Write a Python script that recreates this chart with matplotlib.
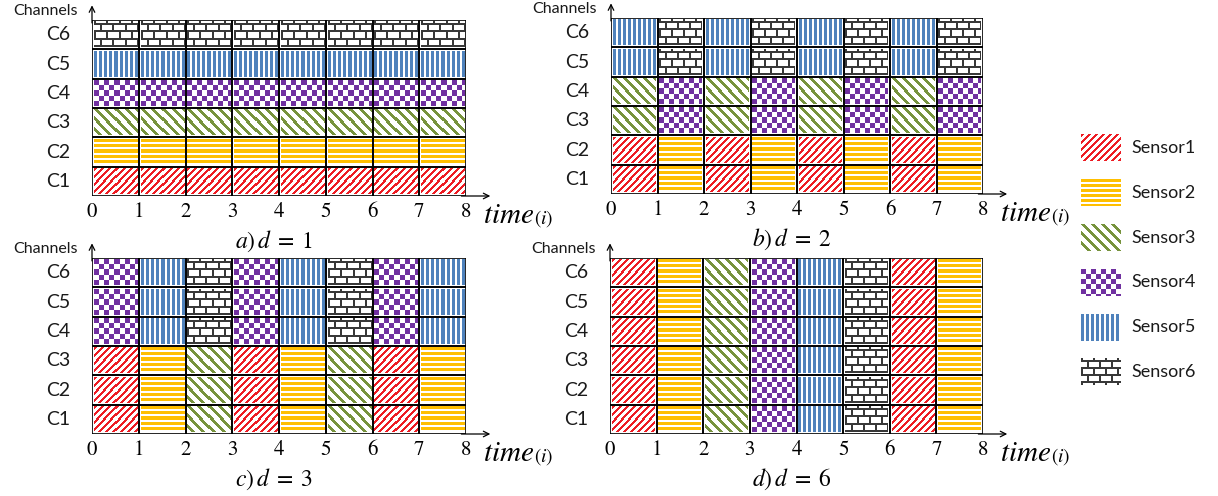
import numpy as np
import matplotlib
matplotlib.use("Agg")
import matplotlib.pyplot as plt
from matplotlib.patches import Rectangle

plt.rcParams['mathtext.fontset'] = 'stix'

W, H = 1218, 496

# ---- data ----
channels = ['C1', 'C2', 'C3', 'C4', 'C5', 'C6']
time_ticks = ['0', '1', '2', '3', '4', '5', '6', '7', '8']
sensors = ['Sensor1', 'Sensor2', 'Sensor3', 'Sensor4', 'Sensor5', 'Sensor6']

# sensor index per channel (rows C1..C6) and time slot (8 columns)
sched_d1 = [
    [1, 1, 1, 1, 1, 1, 1, 1],
    [2, 2, 2, 2, 2, 2, 2, 2],
    [3, 3, 3, 3, 3, 3, 3, 3],
    [4, 4, 4, 4, 4, 4, 4, 4],
    [5, 5, 5, 5, 5, 5, 5, 5],
    [6, 6, 6, 6, 6, 6, 6, 6],
]
sched_d2 = [
    [1, 2, 1, 2, 1, 2, 1, 2],
    [1, 2, 1, 2, 1, 2, 1, 2],
    [3, 4, 3, 4, 3, 4, 3, 4],
    [3, 4, 3, 4, 3, 4, 3, 4],
    [5, 6, 5, 6, 5, 6, 5, 6],
    [5, 6, 5, 6, 5, 6, 5, 6],
]
sched_d3 = [
    [1, 2, 3, 1, 2, 3, 1, 2],
    [1, 2, 3, 1, 2, 3, 1, 2],
    [1, 2, 3, 1, 2, 3, 1, 2],
    [4, 5, 6, 4, 5, 6, 4, 5],
    [4, 5, 6, 4, 5, 6, 4, 5],
    [4, 5, 6, 4, 5, 6, 4, 5],
]
sched_d6 = [
    [1, 2, 3, 4, 5, 6, 1, 2],
    [1, 2, 3, 4, 5, 6, 1, 2],
    [1, 2, 3, 4, 5, 6, 1, 2],
    [1, 2, 3, 4, 5, 6, 1, 2],
    [1, 2, 3, 4, 5, 6, 1, 2],
    [1, 2, 3, 4, 5, 6, 1, 2],
]
captions = [r'$a)\,d\;=\;1$', r'$b)\,d\;=\;2$', r'$c)\,d\;=\;3$', r'$d)\,d\;=\;6$']
schedules = [sched_d1, sched_d2, sched_d3, sched_d6]

# ---- fill patterns ----
RED = (0.93, 0.11, 0.14)
YEL = (1.0, 0.75, 0.0)
GRN = (0.47, 0.58, 0.24)
PUR = (0.44, 0.19, 0.63)
BLU = (0.31, 0.51, 0.74)
GRY = (0.22, 0.22, 0.22)


def texture(sensor, w, h):
    i, j = np.mgrid[0:h, 0:w]
    if sensor == 1:
        mask, col = (i + j) % 7 < 3, RED
    elif sensor == 2:
        mask, col = i % 5 < 3, YEL
    elif sensor == 3:
        mask, col = (j - i) % 10 < 4, GRN
    elif sensor == 4:
        mask, col = ((i // 5) + (j // 5)) % 2 == 0, PUR
    elif sensor == 5:
        mask, col = j % 5 < 3, BLU
    else:
        k = (i + 5) // 7
        mask = ((i + 5) % 7 < 2) | ((j + (k % 2) * 6) % 12 < 2)
        col = GRY
    img = np.ones((h, w, 3))
    img[mask] = col
    return img


def px_axes(l, t, r, b):
    return fig.add_axes([l / W, 1 - b / H, (r - l) / W, (b - t) / H])


fig = plt.figure(figsize=(W / 100, H / 100), dpi=100)

panel_boxes = [(92, 20, 466, 196), (611, 18, 983, 194),
               (92, 258, 466, 434), (610, 258, 983, 434)]

for (l, t, r, b), sched, cap in zip(panel_boxes, schedules, captions):
    ax = px_axes(l, t, r, b)
    ax.set_xlim(0, 8)
    ax.set_ylim(0, 6)
    ax.axis('off')
    cw = (r - l) / 8
    ch = (b - t) / 6
    mx, my = 0.04, 0.07
    tw = int(round(cw * (1 - 2 * mx)))
    th = int(round(ch * (1 - 2 * my)))
    for row, vals in enumerate(sched):
        for col, s in enumerate(vals):
            ax.imshow(texture(s, tw, th), extent=(col + mx, col + 1 - mx, row + my, row + 1 - my),
                      interpolation='nearest', aspect='auto', zorder=1)
            ax.add_patch(Rectangle((col, row), 1, 1, fill=False, edgecolor='black',
                                   lw=1.2, zorder=2))
    # axis arrows
    ax.annotate('', xy=(8.52, 0), xytext=(7.9, 0), annotation_clip=False,
                arrowprops=dict(arrowstyle='->', lw=0.9, color='black', shrinkA=0, shrinkB=0))
    ax.annotate('', xy=(0, 6.5), xytext=(0, 5.9), annotation_clip=False,
                arrowprops=dict(arrowstyle='->', lw=0.9, color='black', shrinkA=0, shrinkB=0))
    for k, lab in enumerate(time_ticks):
        ax.text(k, -0.55, lab, ha='center', va='center', fontsize=15, family='STIXGeneral')
    for k, lab in enumerate(channels):
        ax.text(-0.47, k + 0.5, lab, ha='right', va='center', fontsize=14, family='Lato',
                color='#1a1a1a')
    ax.text(-0.3, 6.3, 'Channels', ha='right', va='center', fontsize=11.5, family='Lato',
            color='#1a1a1a')
    t1 = ax.text(8.36, -0.93, r'$time$', ha='left', va='baseline', fontsize=21)
    ax.annotate(r'$(i)$', xy=(1.0, 0.0), xycoords=t1, ha='left', va='bottom', fontsize=14)
    ax.text(3.9, -1.55, cap, ha='center', va='center', fontsize=17)

# ---- legend ----
lg = fig.add_axes([0, 0, 1, 1])
lg.set_xlim(0, W)
lg.set_ylim(H, 0)
lg.axis('off')
for k, name in enumerate(sensors):
    yc = 148 + 44.8 * k
    lg.imshow(texture(k + 1, 40, 27), extent=(1081, 1121, yc + 13.5, yc - 13.5),
              interpolation='nearest', aspect='auto')
    lg.text(1131, yc, name, ha='left', va='center', fontsize=13, family='Lato', color='#1a1a1a')
lg.set_xlim(0, W)
lg.set_ylim(H, 0)

fig.savefig('out.png', dpi=100)
